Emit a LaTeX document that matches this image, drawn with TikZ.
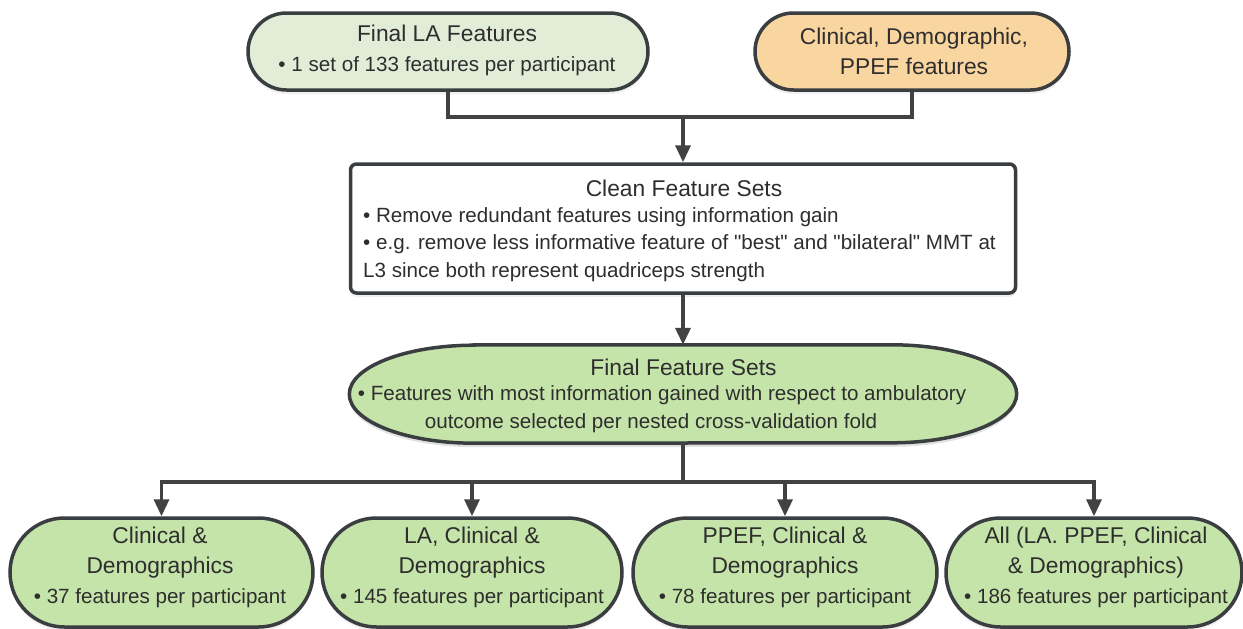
\documentclass[tikz,border=0pt]{standalone}
\usepackage{fontspec}
\setmainfont{Liberation Sans}[Ligatures=TeXOff]
\usetikzlibrary{arrows.meta,shadows}
\definecolor{bordc}{HTML}{3A3E41}
\definecolor{linec}{HTML}{424242}
\definecolor{txtc}{HTML}{2E2E2E}
\definecolor{lagreen}{HTML}{E2EDD8}
\definecolor{orangef}{HTML}{F9D5A0}
\definecolor{greenf}{HTML}{C5E4A9}
\newcommand{\ttlfont}{\fontsize{22.8}{30}\selectfont}
\newcommand{\bdyfont}{\fontsize{20.6}{30}\selectfont}
\newcommand{\finalshape}[1]{%
  \path[#1] ([xshift=125pt]final.north west) -- ([xshift=-125pt]final.north east)
    arc[start angle=90, end angle=-90, x radius=125pt, y radius=49pt]
    -- ([xshift=125pt]final.south west)
    arc[start angle=270, end angle=90, x radius=125pt, y radius=49pt] -- cycle;}
\begin{document}
\begin{tikzpicture}[x=1pt,y=-1pt,
  shp/.style={draw=bordc, line width=3.5pt},
  shd/.style={drop shadow={opacity=0.12, shadow xshift=0pt, shadow yshift=-4pt}},
  pill/.style={shp, shd, rectangle, rounded corners=#1, inner sep=0pt},
  txt/.style={text=txtc, align=center, font=\bdyfont, inner sep=0pt},
  conn/.style={draw=linec, line width=3.5pt},
  arr/.style={conn, -{Triangle[width=15pt,length=17pt]}},
]
\useasboundingbox (0,0) rectangle (1243,629);

% shapes
\node[pill=38.5pt, fill=lagreen, minimum width=400pt, minimum height=77pt] (la) at (448,51.5) {};
\node[pill=38.5pt, fill=orangef, minimum width=314pt, minimum height=77pt] (cdp) at (912,51.5) {};
\node[shp, shd, fill=white, rounded corners=6pt, inner sep=0pt, minimum width=665pt, minimum height=129pt] (clean) at (683,228.5) {};
\node[inner sep=0pt, minimum width=667pt, minimum height=98pt] (final) at (683,394) {};
\begin{scope}[transform canvas={yshift=-4pt}]
  \finalshape{fill=black, opacity=0.12}
\end{scope}
\finalshape{fill=greenf, draw=bordc, line width=3.5pt}
\node[pill=54.5pt, fill=greenf, minimum width=303pt, minimum height=109pt] (b1) at (161.5,572.5) {};
\node[pill=54.5pt, fill=greenf, minimum width=300pt, minimum height=109pt] (b2) at (472,572.5) {};
\node[pill=54.5pt, fill=greenf, minimum width=304pt, minimum height=109pt] (b3) at (785,572.5) {};
\node[pill=54.5pt, fill=greenf, minimum width=296pt, minimum height=109pt] (b4) at (1094,572.5) {};

% connectors
\coordinate (j1) at (683,117);
\draw[conn] (la.south) |- (j1) -| (cdp.south);
\draw[arr] (j1) -- (clean.north);
\draw[arr] (clean.south) -- (final.north);
\coordinate (j2) at (683,482);
\draw[conn] (final.south) -- (j2);
\draw[arr] (j2) -| (b1.north);
\draw[arr] (j2) -| (b2.north);
\draw[arr] (j2) -| (b3.north);
\draw[arr] (j2) -| (b4.north);

% texts
\node[txt] (lat) at (447,50) {{\ttlfont Final LA Features}\\• 1 set of 133 features per participant};
\node[txt] (cdpt) at (914,51) {{\ttlfont Clinical, Demographic,}\\{\ttlfont PPEF features}};
\node[txt, font=\ttlfont] (cleant) at (684,188) {Clean Feature Sets};
\node[txt, align=left, anchor=west, font=\fontsize{20.6}{27.5}\selectfont] (cleanb) at (363,244.5)
  {• Remove redundant features using information gain\\• e.g. remove less informative feature of "best" and "bilateral" MMT at\\L3 since both represent quadriceps strength};
\node[txt, font=\ttlfont] (finalt) at (683.5,367) {Final Feature Sets};
\node[txt, font=\fontsize{20.6}{28}\selectfont] (finalb) at (657,409)
  {\hspace*{10pt}• Features with most information gained with respect to ambulatory\\\hspace*{-12pt}outcome selected per nested cross-validation fold};
\node[txt] (b1t) at (160,567) {{\ttlfont Clinical \&}\\{\ttlfont Demographics}\\• 37 features per participant};
\node[txt] (b2t) at (472,567) {{\ttlfont LA, Clinical \&}\\{\ttlfont Demographics}\\• 145 features per participant};
\node[txt] (b3t) at (785,567) {{\ttlfont PPEF, Clinical \&}\\{\ttlfont Demographics}\\• 78 features per participant};
\node[txt] (b4t) at (1096,567) {{\ttlfont All (LA. PPEF, Clinical}\\{\ttlfont \& Demographics)}\\• 186 features per participant};
\end{tikzpicture}
\end{document}
